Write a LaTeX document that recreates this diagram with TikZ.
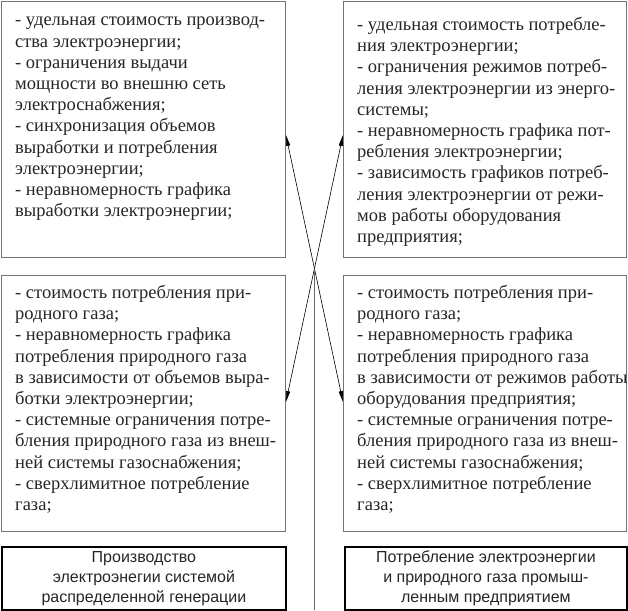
\documentclass[tikz,border=0pt]{standalone}
\usepackage{fontspec}
\newfontfamily\boxserif{Liberation Serif}
\newfontfamily\boxsans{Liberation Sans}
\usetikzlibrary{arrows.meta,calc}
\tikzset{
  box/.style={draw=black!55, line width=0.9pt, rectangle, inner sep=0pt, anchor=north west},
  mainbox/.style={draw=black, line width=1.8pt, rectangle, inner sep=0pt, anchor=north west,
    font=\boxsans\fontsize{16}{20}\selectfont, align=center, text=black!85},
  txt/.style={inner sep=0pt, anchor=north west, align=left, text=black!85,
    font=\boxserif\fontsize{18.5}{21.2}\selectfont},
  arr/.style={-{Triangle[length=11pt,width=4pt]}, line width=0.6pt, black},
}
\begin{document}
\begin{tikzpicture}[x=1pt,y=-1pt]
\useasboundingbox (0,0) rectangle (628,610);
% boxes
\node[box, minimum width=284, minimum height=256] (tl) at (1,1) {};
\node[box, minimum width=283, minimum height=256] (tr) at (343,1) {};
\node[box, minimum width=284, minimum height=256] (ml) at (1,275) {};
\node[box, minimum width=283, minimum height=256] (mr) at (343,275) {};
\node[mainbox, minimum width=284, minimum height=63] (bl) at (1,546)
  {Производство\\электроэнегии системой\\распределенной генерации};
\node[mainbox, minimum width=282, minimum height=63] (br) at (344,546)
  {Потребление электроэнергии\\и природного газа промыш-\\ленным предприятием};
% texts
\node[txt] (ttl) at ($(tl.north west)+(14,16)$) {- удельная стоимость производ-\\ства электроэнергии;\\- ограничения выдачи\\мощности во внешню сеть\\электроснабжения;\\- синхронизация объемов\\выработки и потребления\\электроэнергии;\\- неравномерность графика\\выработки электроэнергии;};
\node[txt] (ttr) at ($(tr.north west)+(14,16)$) {- удельная стоимость потребле-\\ния электроэнергии;\\- ограничения режимов потреб-\\ления электроэнергии из энерго-\\системы;\\- неравномерность графика пот-\\ребления электроэнергии;\\- зависимость графиков потреб-\\ления электроэнергии от режи-\\мов работы оборудования\\предприятия;};
\node[txt] (tml) at ($(ml.north west)+(14,10)$) {- стоимость потребления при-\\родного газа;\\- неравномерность графика\\потребления природного газа\\в зависимости от объемов выра-\\ботки электроэнергии;\\- системные ограничения потре-\\бления природного газа из внеш-\\ней системы газоснабжения;\\- сверхлимитное потребление\\газа;};
\node[txt] (tmr) at ($(mr.north west)+(14,10)$) {- стоимость потребления при-\\родного газа;\\- неравномерность графика\\потребления природного газа\\в зависимости от режимов работы\\оборудования предприятия;\\- системные ограничения потре-\\бления природного газа из внеш-\\ней системы газоснабжения;\\- сверхлимитное потребление\\газа;};
% connectors
\coordinate (a1) at ($(tl.north east)+(0,134)$);
\coordinate (a2) at ($(tr.north west)+(0,134)$);
\coordinate (a3) at ($(ml.north east)+(0,127)$);
\coordinate (a4) at ($(mr.north west)+(0,127)$);
\coordinate (c) at ($(a1)!0.5!(a4)$);
\coordinate (bot) at (c |- 0,610);
\draw[arr] (c) -- (a1);
\draw[arr] (c) -- (a2);
\draw[arr] (c) -- (a3);
\draw[arr] (c) -- (a4);
\draw[black!60, line width=0.9pt] (c) -- (bot);
\end{tikzpicture}
\end{document}
